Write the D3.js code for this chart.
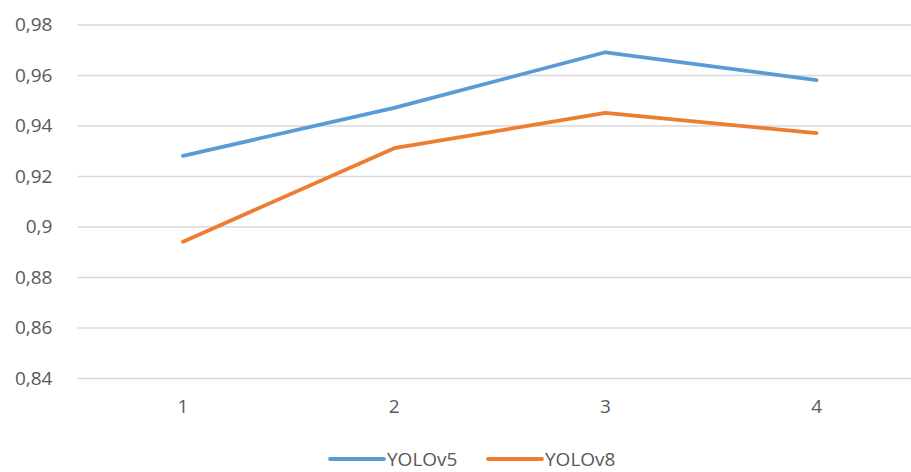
<!DOCTYPE html>
<html>
<head>
<meta charset="utf-8">
<script src="https://cdn.jsdelivr.net/npm/d3@7"></script>
<style>
  body { margin: 0; background: #fff; }
  text { font-family: "Open Sans", "Noto Sans", sans-serif; fill: #595959; }
</style>
</head>
<body>
<script>
const width = 911;
const height = 472;

// chart data
var categories = ["1", "2", "3", "4"];
var yolov5 = [0.928, 0.947, 0.969, 0.958];
var yolov8 = [0.894, 0.931, 0.945, 0.937];
var yTicks = [0.84, 0.86, 0.88, 0.9, 0.92, 0.94, 0.96, 0.98];

var series = [
  { name: "YOLOv5", values: yolov5, color: "#5B9BD5" },
  { name: "YOLOv8", values: yolov8, color: "#ED7D31" }
];

var margin = { top: 24.5, left: 77.4, bottom: 94 };

var svg = d3.select("body")
  .append("svg")
  .attr("width", width)
  .attr("height", height);

// category axis: band per category, point in the middle
var x = d3.scaleBand()
  .domain(categories)
  .range([margin.left, margin.left + 4 * 211.2]);

var y = d3.scaleLinear()
  .domain([0.84, 0.98])
  .range([height - margin.bottom, margin.top]);

var fmt = function(d) { return String(+d.toFixed(2)).replace(".", ","); };

// horizontal gridlines + labels
var yAxis = svg.append("g")
  .attr("transform", "translate(" + margin.left + ",0)")
  .call(d3.axisLeft(y).tickValues(yTicks).tickFormat(fmt)
    .tickSize(-(x.range()[1] - margin.left)).tickPadding(25));
yAxis.select(".domain").remove();
yAxis.selectAll("line").attr("stroke", "#D9D9D9").attr("stroke-width", 1.3);
yAxis.selectAll("text").style("font-size", "19px").attr("dy", "0.34em");

// category labels
var xAxis = svg.append("g")
  .attr("transform", "translate(0," + (height - margin.bottom) + ")")
  .call(d3.axisBottom(x).tickSize(0).tickPadding(22));
xAxis.select(".domain").remove();
xAxis.selectAll("text").style("font-size", "19px");

var line = d3.line()
  .x(function(d, i) { return x(categories[i]) + x.bandwidth() / 2; })
  .y(function(d) { return y(d); });

svg.selectAll("path.series")
  .data(series)
  .enter()
  .append("path")
  .attr("class", "series")
  .attr("d", function(d) { return line(d.values); })
  .attr("fill", "none")
  .attr("stroke", function(d) { return d.color; })
  .attr("stroke-width", 3.8)
  .attr("stroke-linejoin", "round")
  .attr("stroke-linecap", "round");

// legend
var legend = svg.append("g").attr("transform", "translate(330,459)");
var item = legend.selectAll("g")
  .data(series)
  .enter()
  .append("g")
  .attr("transform", function(d, i) { return "translate(" + (i * 158) + ",0)"; });
item.append("line")
  .attr("x1", 0).attr("x2", 54)
  .attr("stroke", function(d) { return d.color; })
  .attr("stroke-width", 3.8)
  .attr("stroke-linecap", "round");
item.append("text")
  .attr("x", 57)
  .attr("dy", "0.35em")
  .style("font-size", "19px")
  .text(function(d) { return d.name; });
</script>
</body>
</html>
